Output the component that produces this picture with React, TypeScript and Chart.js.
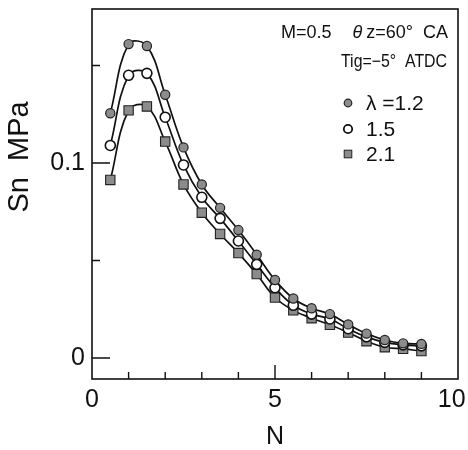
import React, { useEffect, useRef } from "react";
import { Chart, registerables } from "chart.js";

Chart.register(...registerables);

// ---- data ----
const N = [0.5, 1, 1.5, 2, 2.5, 3, 3.5, 4, 4.5, 5, 5.5, 6, 6.5, 7, 7.5, 8, 8.5, 9];
const lambda12 = [0.1255, 0.161, 0.16, 0.135, 0.108, 0.089, 0.077, 0.0656, 0.053, 0.04, 0.0305, 0.0255, 0.0225, 0.0172, 0.0125, 0.0092, 0.0075, 0.0072];
const lambda15 = [0.109, 0.145, 0.146, 0.1235, 0.099, 0.0824, 0.0716, 0.06, 0.048, 0.036, 0.027, 0.0225, 0.02, 0.015, 0.0108, 0.008, 0.0067, 0.0062];
const lambda21 = [0.0913, 0.127, 0.129, 0.111, 0.089, 0.0745, 0.0636, 0.0538, 0.043, 0.031, 0.0244, 0.0204, 0.017, 0.013, 0.0086, 0.0055, 0.0047, 0.0035];
const seriesLabels = ["λ =1.2", "1.5", "2.1"];
const xTickValues = [0, 5, 10];
const yTickValues = [0, 0.1];
const xMinorTicks = [1, 2, 3, 4, 5, 6, 7, 8, 9];
const yMinorTicks = [0.05, 0.1, 0.15];
const xTitle = "N";
const yTitle = "Sn  MPa";
const noteLine1a = "M=0.5";
const noteTheta = "θ";
const noteLine1b = "z=60°  CA";
const noteLine2 = "Tig=−5°  ATDC";

const FONT = '"Liberation Sans", Arial, Helvetica, sans-serif';
const GRAY = "#8c8c8c";
const DARK = "#222";

const decorPlugin = {
  id: "decor",
  afterDraw(chart: any) {
    const { ctx, chartArea, scales } = chart;
    const { left, right, top, bottom } = chartArea;
    const x = scales.x;
    const y = scales.y;
    ctx.save();
    ctx.strokeStyle = "#111";
    ctx.lineWidth = 1.6;
    ctx.strokeRect(left, top, right - left, bottom - top);
    ctx.lineWidth = 1.4;
    ctx.beginPath();
    xMinorTicks.forEach((v) => {
      const px = x.getPixelForValue(v);
      const len = v === 5 ? 14 : 7;
      ctx.moveTo(px, bottom);
      ctx.lineTo(px, bottom - len);
    });
    [0, ...yMinorTicks].forEach((v) => {
      const py = y.getPixelForValue(v);
      const len = v === 0 || Math.abs(v - 0.1) < 1e-9 ? 18 : 8;
      ctx.moveTo(left, py);
      ctx.lineTo(left + len, py);
    });
    ctx.stroke();

    // y title
    ctx.fillStyle = "#111";
    ctx.save();
    ctx.translate(20, 157);
    ctx.rotate(-Math.PI / 2);
    ctx.font = `29px ${FONT}`;
    ctx.textAlign = "center";
    ctx.textBaseline = "middle";
    ctx.fillText(yTitle, 0, 0);
    ctx.restore();

    // notes
    ctx.textBaseline = "middle";
    ctx.textAlign = "left";
    ctx.font = `18px ${FONT}`;
    ctx.fillText(noteLine1a, 281, 33);
    ctx.textAlign = "right";
    ctx.fillText(noteLine1b, 448, 33);
    const wb = ctx.measureText(noteLine1b).width;
    ctx.font = `italic 18px ${FONT}`;
    ctx.fillText(noteTheta, 448 - wb - 4, 33);
    ctx.font = `18px ${FONT}`;
    ctx.fillText(noteLine2, 447, 62, 106);

    // legend
    const lx = 348;
    const rows = [103, 129, 154];
    ctx.textAlign = "left";
    ctx.font = `21px ${FONT}`;
    seriesLabels.forEach((t, i) => {
      ctx.fillText(t, 366, rows[i] + 1);
    });
    ctx.lineWidth = 1.2;
    // filled circle
    ctx.beginPath();
    ctx.arc(lx, rows[0], 3.8, 0, Math.PI * 2);
    ctx.fillStyle = GRAY;
    ctx.fill();
    ctx.strokeStyle = DARK;
    ctx.stroke();
    // open circle
    ctx.beginPath();
    ctx.arc(lx, rows[1], 4.2, 0, Math.PI * 2);
    ctx.fillStyle = "#fff";
    ctx.fill();
    ctx.lineWidth = 1.8;
    ctx.strokeStyle = "#111";
    ctx.stroke();
    // square
    ctx.lineWidth = 1;
    ctx.fillStyle = GRAY;
    ctx.fillRect(lx - 3.8, rows[2] - 3.8, 7.6, 7.6);
    ctx.strokeStyle = DARK;
    ctx.strokeRect(lx - 3.8, rows[2] - 3.8, 7.6, 7.6);
    ctx.restore();
  },
};

export default function App() {
  const ref = useRef<HTMLCanvasElement | null>(null);
  useEffect(() => {
    if (!ref.current) return;
    const mk = (d: number[]) => N.map((n, i) => ({ x: n, y: d[i] }));
    const chart = new Chart(ref.current, {
      type: "line",
      data: {
        datasets: [
          {
            label: seriesLabels[0],
            data: mk(lambda12),
            borderColor: "#111",
            borderWidth: 1.7,
            tension: 0.4,
            pointStyle: "circle",
            pointRadius: 4.6,
            pointBackgroundColor: GRAY,
            pointBorderColor: DARK,
            pointBorderWidth: 1.2,
          },
          {
            label: seriesLabels[1],
            data: mk(lambda15),
            borderColor: "#111",
            borderWidth: 1.7,
            tension: 0.4,
            pointStyle: "circle",
            pointRadius: 5,
            pointBackgroundColor: "#fff",
            pointBorderColor: "#111",
            pointBorderWidth: 1.6,
          },
          {
            label: seriesLabels[2],
            data: mk(lambda21),
            borderColor: "#111",
            borderWidth: 1.7,
            tension: 0.4,
            pointStyle: "rect",
            pointRadius: 6.6,
            pointBackgroundColor: GRAY,
            pointBorderColor: DARK,
            pointBorderWidth: 1.1,
          },
        ],
      },
      options: {
        responsive: false,
        animation: false,
        events: [],
        layout: { padding: { top: 9, right: 10, bottom: 0, left: 0 } },
        plugins: { legend: { display: false }, tooltip: { enabled: false } },
        scales: {
          x: {
            type: "linear",
            min: 0,
            max: 10,
            grid: { display: false, drawTicks: false },
            border: { display: false },
            afterBuildTicks: (s: any) => {
              s.ticks = xTickValues.map((v) => ({ value: v }));
            },
            afterFit: (s: any) => {
              s.height = 71;
              s.paddingLeft = 0;
              s.paddingRight = 0;
            },
            ticks: {
              padding: 6,
              color: "#111",
              font: { family: FONT, size: 25 },
              maxRotation: 0,
              autoSkip: false,
              callback: (v: any) => (v === 10 ? "10\u2002" : String(v)),
            },
            title: {
              display: true,
              text: xTitle,
              color: "#111",
              font: { family: FONT, size: 25, lineHeight: 1 },
              padding: { top: 0, bottom: 0 },
            },
          },
          y: {
            type: "linear",
            min: -0.0108,
            max: 0.179,
            grid: { display: false, drawTicks: false },
            border: { display: false },
            afterBuildTicks: (s: any) => {
              s.ticks = yTickValues.map((v) => ({ value: v }));
            },
            afterFit: (s: any) => {
              s.width = 92;
              s.paddingTop = 0;
              s.paddingBottom = 0;
            },
            ticks: {
              padding: 7,
              color: "#111",
              font: { family: FONT, size: 25 },
              autoSkip: false,
              callback: (v: any) => (Math.abs(v) < 1e-9 ? "0" : String(Math.round(v * 10) / 10)),
            },
          },
        },
      },
      plugins: [decorPlugin],
    });
    return () => chart.destroy();
  }, []);
  return (
    <div style={{ position: "fixed", left: 0, top: 0, width: 468, height: 450, background: "#fff" }}>
      <canvas ref={ref} width={468} height={450} style={{ display: "block" }} />
    </div>
  );
}
